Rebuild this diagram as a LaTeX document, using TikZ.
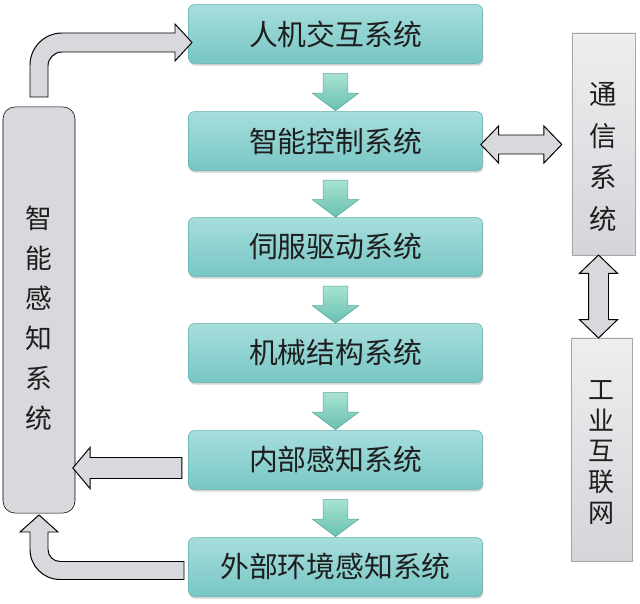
\documentclass[tikz,border=0pt]{standalone}
\usepackage{fontspec}
\setmainfont{Noto Sans CJK SC}
\usetikzlibrary{calc,shapes.arrows,shadows}

\definecolor{tealtop}{HTML}{A6DEDC}
\definecolor{tealbot}{HTML}{78C6C5}
\definecolor{tealedge}{HTML}{5DAEAE}
\definecolor{arrtop}{HTML}{A8E2D4}
\definecolor{arrbot}{HTML}{68C1B0}
\definecolor{arredge}{HTML}{55A898}
\definecolor{greyfill}{HTML}{D8D9DD}
\definecolor{paneltop}{HTML}{EEEEF0}
\definecolor{panelbot}{HTML}{D4D5D9}
\definecolor{ink}{HTML}{1E1E1E}

\tikzset{
  sysbox/.style={draw=tealedge, top color=tealtop, bottom color=tealbot,
    rounded corners=0.15cm, minimum width=7.35cm, minimum height=1.47cm,
    font=\fontsize{20.5}{24}\selectfont, text=ink,
    drop shadow={shadow xshift=0.6pt, shadow yshift=-1.6pt, opacity=0.35}},
  sidebox/.style={draw=black, fill=greyfill, rounded corners=0.3cm,
    minimum width=1.8cm, minimum height=10.15cm},
  panel/.style={draw=gray!70, top color=paneltop, bottom color=panelbot},
  vtext/.style={align=center, text=ink, inner sep=0pt},
  arrowbase/.style={text height=0pt, text depth=0pt},
  downarrow/.style={arrowbase, single arrow, shape border rotate=270,
    draw=arredge, top color=arrtop, bottom color=arrbot,
    inner xsep=0.3cm, inner ysep=0pt, single arrow head extend=0.275cm,
    single arrow tip angle=106, minimum height=0.925cm},
  greyarrow/.style={draw=black, fill=greyfill, line width=0.7pt, line join=miter},
  twoway/.style={arrowbase, double arrow, draw=black, fill=greyfill,
    line width=0.7pt, double arrow tip angle=92},
}

\begin{document}
\begin{tikzpicture}[x=0.025cm,y=-0.025cm]
\useasboundingbox (0,0) rectangle (640,604);

% main chain
\node[sysbox] (hmi)   at (335.5,34)  {人机交互系统};
\node[sysbox] (ctrl)  at (335.5,141) {智能控制系统};
\node[sysbox] (servo) at (335.5,247) {伺服驱动系统};
\node[sysbox] (mech)  at (335.5,353) {机械结构系统};
\node[sysbox] (inner) at (335.5,460) {内部感知系统};
\node[sysbox] (outer) at (335.5,567) {外部环境感知系统};

\foreach \a/\b in {hmi/ctrl,ctrl/servo,servo/mech,mech/inner,inner/outer}
  \node[downarrow] at ($(\a.south)!0.5!(\b.north)$) {};

% side blocks
\node[sidebox] (sense) at (39,310) {};
\node[vtext, font=\fontsize{19}{28.5}\selectfont] at ($(sense)+(0,8)$)
  {智\\能\\感\\知\\系\\统};
\node[panel, minimum width=1.575cm, minimum height=5.55cm] (comm) at (603.5,144) {};
\node[vtext, font=\fontsize{19.5}{29.8}\selectfont] at ($(comm)+(0,13)$)
  {通\\信\\系\\统};
\node[panel, minimum width=1.525cm, minimum height=5.575cm] (iiot) at (601.5,449.5) {};
\node[vtext, font=\fontsize{18.5}{22}\selectfont] at ($(iiot)+(0,3)$)
  {工\\业\\互\\联\\网};

% two-way links
\node[twoway, inner xsep=0pt, inner ysep=0.225cm, double arrow head extend=0.225cm,
  minimum height=2.025cm] at ($(ctrl.east)!0.5!(comm.west)+(-6,2)$) {};
\node[twoway, shape border rotate=90, inner xsep=0.2375cm, inner ysep=0pt,
  double arrow head extend=0.225cm, minimum height=2.075cm]
  at ($(comm.south)!0.5!(iiot.north)+(-4,0)$) {};

% feedback into sensing block
\node[arrowbase, single arrow, shape border rotate=180, draw=black,
  fill=greyfill, line width=0.7pt, inner xsep=0pt, inner ysep=0.25cm,
  single arrow head extend=0.25cm, single arrow tip angle=100,
  minimum height=2.725cm] at ($(inner.west)!0.5!(sense.east |- inner.west)+(0,8)$) {};

% sensing -> hmi
\draw[greyarrow] (30,97) -- (30,65) .. controls (30,47.4) and (44.4,33) .. (62,33)
  -- (175,33) -- (175,24) -- (192,42.5) -- (175,61) -- (175,52) -- (62,52)
  .. controls (54.3,52) and (48,58.3) .. (48,66) -- (48,97) -- cycle;

% outer -> sensing
\draw[greyarrow] (184,561.5) -- (60,561.5) .. controls (53.4,561.5) and (48,556) .. (48,549.5)
  -- (48,532) -- (58,532) -- (39,515) -- (20,532) -- (30,532) -- (30,549.5)
  .. controls (30,566) and (43.5,579.5) .. (60,579.5) -- (184,579.5) -- cycle;
\end{tikzpicture}
\end{document}
